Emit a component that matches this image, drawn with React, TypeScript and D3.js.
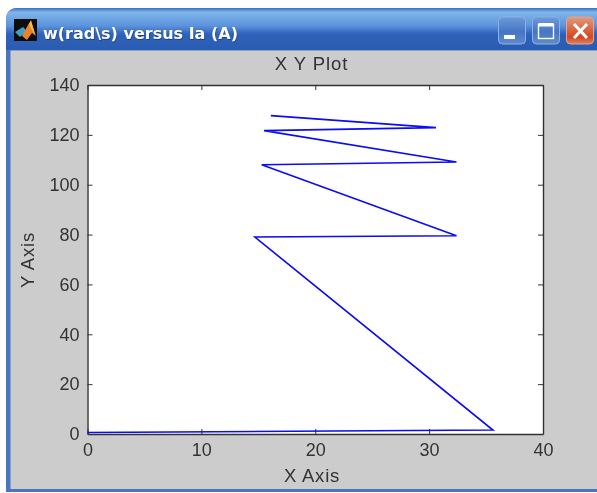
import React, { useEffect, useRef } from 'react';
import * as d3 from 'd3';

const xValues = [0, 35.6, 14.7, 32.4, 15.3, 32.4, 15.5, 30.6, 16.1];
const yValues = [0.6, 1.6, 79, 79.5, 108, 109.1, 121.7, 122.9, 127.7];
const xTicks = [0, 10, 20, 30, 40];
const yTicks = [0, 20, 40, 60, 80, 100, 120, 140];
const windowTitle = 'w(rad\\s) versus Ia (A)';
const plotTitle = 'X Y Plot';
const xLabel = 'X Axis';
const yLabel = 'Y Axis';

const width = 597;
const height = 493;
const plot = { left: 87.5, right: 543, top: 85, bottom: 434 };
const font = '"Liberation Sans", Arial, sans-serif';
const textColor = '#333';

function App() {
  const axesRef = useRef<SVGGElement>(null);

  const x = d3.scaleLinear().domain([0, 40]).range([plot.left, plot.right]);
  const y = d3.scaleLinear().domain([0, 140]).range([plot.bottom, plot.top]);

  const line = d3.line<number>()
    .x(d => x(xValues[d]))
    .y(d => y(yValues[d]));

  useEffect(() => {
    const g = d3.select(axesRef.current);
    g.selectAll('*').remove();

    const bottom = g.append('g')
      .attr('transform', `translate(0,${plot.bottom})`)
      .call(d3.axisBottom(x).tickValues(xTicks).tickFormat(d3.format('d')).tickSizeInner(-5).tickSizeOuter(0).tickPadding(9));
    const left = g.append('g')
      .attr('transform', `translate(${plot.left},0)`)
      .call(d3.axisLeft(y).tickValues(yTicks).tickFormat(d3.format('d')).tickSizeInner(-5).tickSizeOuter(0).tickPadding(8));
    g.append('g')
      .attr('transform', `translate(0,${plot.top})`)
      .call(d3.axisTop(x).tickValues(xTicks).tickFormat(() => '').tickSizeInner(-5).tickSizeOuter(0));
    g.append('g')
      .attr('transform', `translate(${plot.right},0)`)
      .call(d3.axisRight(y).tickValues(yTicks).tickFormat(() => '').tickSizeInner(-5).tickSizeOuter(0));

    g.selectAll('path.domain').attr('stroke', '#333').attr('stroke-width', 1.4);
    g.selectAll('.tick line').attr('stroke', '#333').attr('stroke-width', 1);
    for (const axis of [bottom, left]) {
      axis.selectAll('text')
        .attr('font-family', font)
        .attr('font-size', 18)
        .attr('fill', textColor);
    }
  }, []);

  return (
    <svg width={width} height={height} style={{ position: 'absolute', left: 0, top: 0 }}>
      <defs>
        <linearGradient id="titlebar" x1="0" y1="0" x2="0" y2="1">
          <stop offset="0" stopColor="#3a6cc4" />
          <stop offset="0.1" stopColor="#7fb6ea" />
          <stop offset="0.42" stopColor="#5c93dc" />
          <stop offset="0.62" stopColor="#2f62bb" />
          <stop offset="1" stopColor="#2b5cb0" />
        </linearGradient>
        <linearGradient id="closebtn" x1="0" y1="0" x2="0" y2="1">
          <stop offset="0" stopColor="#e09a80" />
          <stop offset="0.5" stopColor="#d9623c" />
          <stop offset="0.75" stopColor="#d4471f" />
          <stop offset="1" stopColor="#dc8468" />
        </linearGradient>
        <linearGradient id="btn" x1="0" y1="0" x2="0" y2="1">
          <stop offset="0" stopColor="#6f9bdc" />
          <stop offset="0.55" stopColor="#4576c4" />
          <stop offset="1" stopColor="#5f8ccf" />
        </linearGradient>
        <filter id="soft" x="-5%" y="-5%" width="110%" height="110%">
          <feGaussianBlur stdDeviation="0.5" />
        </filter>
      </defs>
      <rect width={width} height={height} fill="#fff" />

      {/* window frame */}
      <g filter="url(#soft)">
        <path d="M6,492 V20 Q6,8 18,8 H597 V492 Z" fill="#4a76c0" />
        <path d="M6,50 V20 Q6,8 18,8 H597 V50 Z" fill="url(#titlebar)" />
        <rect x={10.5} y={50.5} width={587} height={438.5} fill="#cccccc" />

        {/* icon */}
        <rect x={14} y={19} width={23} height={22} fill="#0a0a0a" />
        <path d="M15,32 L23,27 L27,31 L20,37 Z" fill="#3fa0c4" />
        <path d="M22,36 L28,25 L31,20 L34,30 L36,36 L32,33 L27,40 Z" fill="#e8832a" />
        <path d="M29,24 L31,21 L35,35 L32,30 Z" fill="#f6c14a" />

        <text x={43.5} y={39.5} fontFamily='"DejaVu Sans", sans-serif' fontWeight="bold" fontSize={16} fill="#1c3f88">{windowTitle}</text>
        <text x={43} y={39} fontFamily='"DejaVu Sans", sans-serif' fontWeight="bold" fontSize={16} fill="#fff">{windowTitle}</text>

        {/* window buttons */}
        <rect x={498.5} y={17} width={27} height={27} rx={4} fill="url(#btn)" stroke="#8fb0e2" />
        <rect x={504} y={35} width={11} height={4} fill="#fff" />
        <rect x={532.5} y={17} width={27} height={27} rx={4} fill="url(#btn)" stroke="#8fb0e2" />
        <rect x={538.5} y={24.5} width={15} height={14} fill="none" stroke="#fff" strokeWidth={1.4} />
        <rect x={538.5} y={23} width={15} height={3.5} fill="#fff" />
        <rect x={566.5} y={17} width={27} height={27} rx={4} fill="url(#closebtn)" stroke="#e0a890" />
        <path d="M574,24 L587,38 M587,24 L574,38" stroke="#fff" strokeWidth={3} />

        {/* plot */}
        <rect x={plot.left} y={plot.top} width={plot.right - plot.left} height={plot.bottom - plot.top} fill="#fff" />
        <g ref={axesRef} />
        <path d={line(d3.range(xValues.length)) ?? ''} fill="none" stroke="#0a0af5" strokeWidth={1.6} />

        <text x={311.5} y={70} textAnchor="middle" fontFamily={font} fontSize={18.5} letterSpacing={0.9} fill={textColor}>{plotTitle}</text>
        <text x={312} y={482} textAnchor="middle" fontFamily={font} fontSize={18.5} letterSpacing={0.8} fill={textColor}>{xLabel}</text>
        <text transform="translate(33.5,260) rotate(-90)" textAnchor="middle" fontFamily={font} fontSize={18.5} letterSpacing={0.8} fill={textColor}>{yLabel}</text>
      </g>
    </svg>
  );
}

export default App;
